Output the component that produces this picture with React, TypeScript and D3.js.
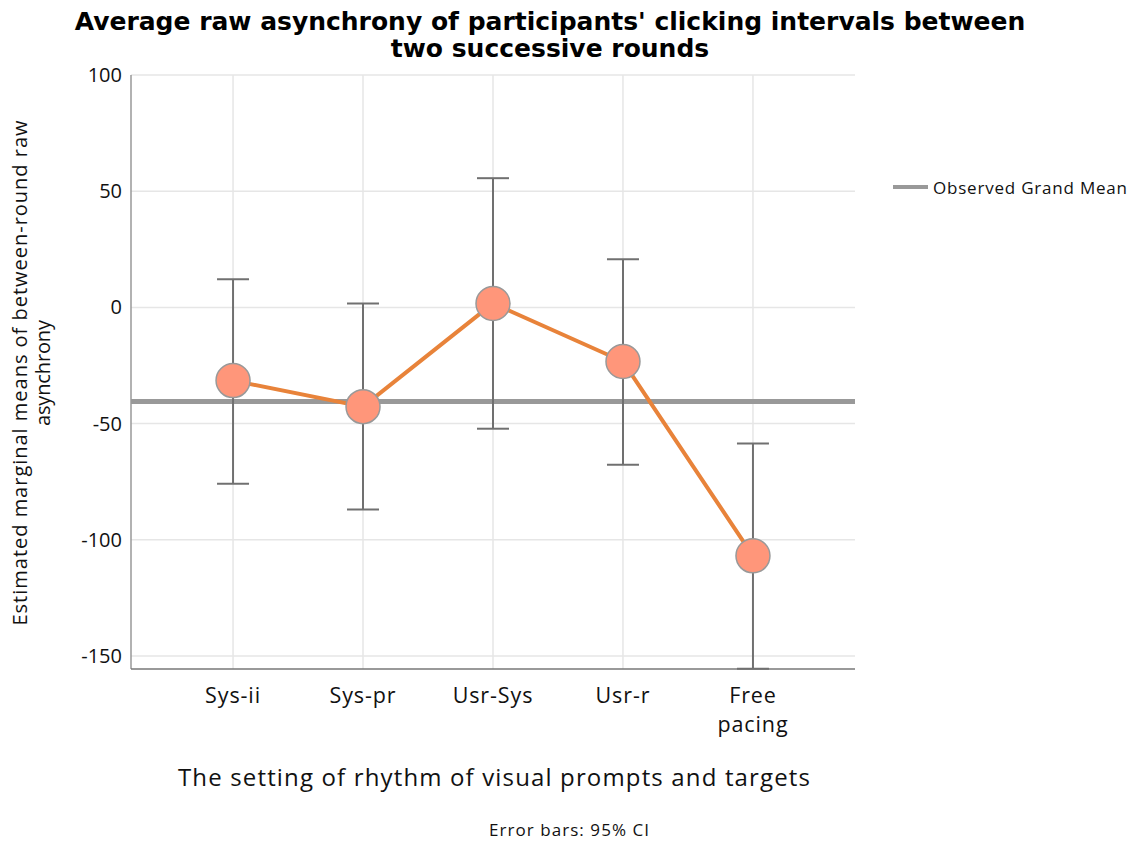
import React from "react";
import * as d3 from "d3";

const categories = ["Sys-ii", "Sys-pr", "Usr-Sys", "Usr-r", "Free pacing"];
const means = [-31.5, -42.7, 1.7, -23.3, -106.9];
const ciUpper = [12.1, 1.7, 55.6, 20.7, -58.6];
const ciLower = [-75.9, -87.0, -52.2, -67.7, -155.5];
const grandMean = -40.5;
const yTicks = [100, 50, 0, -50, -100, -150];

const W = 1136;
const H = 843;
const left = 131;
const right = 855;
const top = 75;
const bottom = 669;
const font = "'Open Sans', Lato, sans-serif";

export default function App() {
  const x = d3.scalePoint<string>().domain(categories).range([left, right]).padding(0.785);
  const y = d3.scaleLinear().domain([-155.6, 100]).range([bottom, top]);
  const line = d3
    .line<number>()
    .x((_, i) => x(categories[i]) as number)
    .y((d) => y(d));
  return (
    <svg width={W} height={H} style={{ position: "absolute", left: 0, top: 0 }}>
      <rect width={W} height={H} fill="#fff" />
      <text textAnchor="middle" fontFamily="'DejaVu Sans', Verdana, sans-serif" fontWeight="bold" fontSize={25} fill="#000">
        <tspan x={550} y={30}>Average raw asynchrony of participants' clicking intervals between</tspan>
        <tspan x={550} y={57}>two successive rounds</tspan>
      </text>
      {yTicks.map((t) => (
        <line key={"gy" + t} x1={left} x2={right} y1={y(t)} y2={y(t)} stroke="#e6e6e6" strokeWidth={1.5} />
      ))}
      {categories.map((c) => (
        <line key={"gx" + c} x1={x(c)} x2={x(c)} y1={top} y2={bottom} stroke="#e6e6e6" strokeWidth={1.5} />
      ))}
      <line x1={left} x2={left} y1={top} y2={bottom} stroke="#999" strokeWidth={1.5} />
      <line x1={left} x2={right} y1={bottom} y2={bottom} stroke="#777" strokeWidth={1.5} />
      {yTicks.map((t) => (
        <text key={"ty" + t} x={122} y={y(t) + 7} textAnchor="end" fontFamily={font} fontSize={20} fill="#111">
          {t}
        </text>
      ))}
      {categories.map((c) => {
        const parts = c === "Free pacing" ? ["Free", "pacing"] : [c];
        return (
          <text key={"tx" + c} textAnchor="middle" fontFamily={font} fontSize={21.5} letterSpacing={0.9} fill="#111">
            {parts.map((p, j) => (
              <tspan key={j} x={x(c)} y={703 + j * 29}>
                {p}
              </tspan>
            ))}
          </text>
        );
      })}
      <line x1={left} x2={right} y1={y(grandMean)} y2={y(grandMean)} stroke="#999" strokeWidth={5} />
      {categories.map((c, i) => (
        <g key={"eb" + c} stroke="#707070" strokeWidth={2}>
          <line x1={x(c)} x2={x(c)} y1={y(ciUpper[i])} y2={y(ciLower[i])} />
          <line x1={(x(c) as number) - 16} x2={(x(c) as number) + 16} y1={y(ciUpper[i])} y2={y(ciUpper[i])} />
          <line x1={(x(c) as number) - 16} x2={(x(c) as number) + 16} y1={y(ciLower[i])} y2={y(ciLower[i])} />
        </g>
      ))}
      <path d={line(means) || ""} fill="none" stroke="#E8833A" strokeWidth={4} />
      {categories.map((c, i) => (
        <circle key={"pt" + c} cx={x(c)} cy={y(means[i])} r={17} fill="#FF967A" stroke="#999" strokeWidth={1.5} />
      ))}
      <text x={494} y={786} textAnchor="middle" fontFamily={font} fontSize={24} textLength={632} lengthAdjust="spacing" fill="#111">
        The setting of rhythm of visual prompts and targets
      </text>
      <g transform="translate(0,373) rotate(-90)">
        <text x={0} y={27} textAnchor="middle" fontFamily={font} fontSize={20} textLength={505} lengthAdjust="spacing" fill="#111">
          Estimated marginal means of between-round raw
        </text>
        <text x={0} y={50} textAnchor="middle" fontFamily={font} fontSize={20} textLength={106} lengthAdjust="spacing" fill="#111">
          asynchrony
        </text>
      </g>
      <line x1={893} x2={928} y1={187} y2={187} stroke="#999" strokeWidth={4} />
      <text x={933} y={194} fontFamily={font} fontSize={17} textLength={194} lengthAdjust="spacing" fill="#111">
        Observed Grand Mean
      </text>
      <text x={569} y={836} textAnchor="middle" fontFamily={font} fontSize={17} textLength={160} lengthAdjust="spacing" fill="#111">
        Error bars: 95% CI
      </text>
    </svg>
  );
}
